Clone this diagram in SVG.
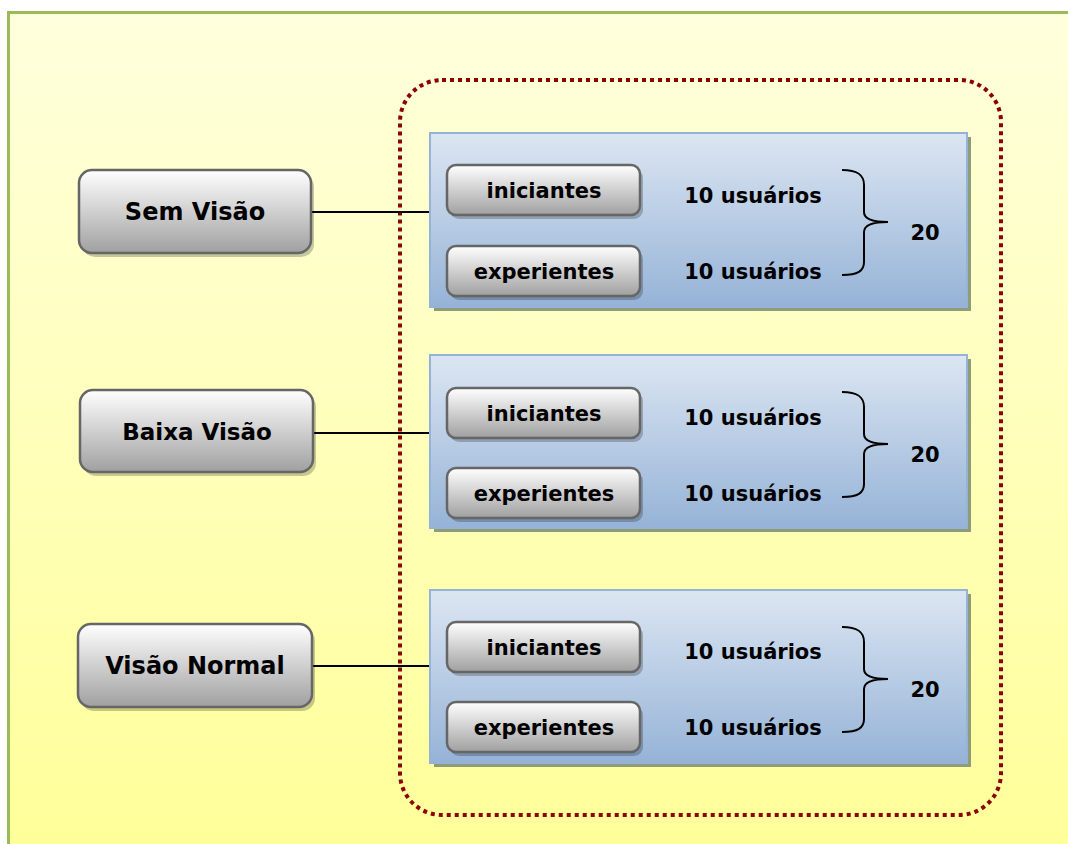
<svg xmlns="http://www.w3.org/2000/svg" width="1068" height="844" viewBox="0 0 1068 844">
<defs>
<linearGradient id="bg" x1="0" y1="0" x2="0" y2="1">
<stop offset="0" stop-color="#FFFFDD"/>
<stop offset="1" stop-color="#FFFF99"/>
</linearGradient>
<linearGradient id="blue" x1="0" y1="0" x2="0" y2="1">
<stop offset="0" stop-color="#DCE6F2"/>
<stop offset="1" stop-color="#95B3D7"/>
</linearGradient>
<linearGradient id="btn" x1="0" y1="0" x2="0" y2="1">
<stop offset="0" stop-color="#FFFFFF"/>
<stop offset="1" stop-color="#A0A0A0"/>
</linearGradient>
<style>
.t{font-family:"DejaVu Sans",Verdana,sans-serif;font-weight:bold;fill:#000;text-anchor:middle}
.big{font-size:24px}
.sm{font-size:21px}
.btn{fill:url(#btn);stroke:#666;stroke-width:2.5}
.bsh{fill:#000;opacity:0.22}
.box{fill:url(#blue);stroke:#95B3D7;stroke-width:2}
.bxsh{fill:#8F9C7C}
.conn{stroke:#000;stroke-width:2;fill:none}
.brace{stroke:#000;stroke-width:2;fill:none}
</style>
</defs>
<rect x="8.5" y="12.5" width="1070" height="840" fill="url(#bg)" stroke="#9BBB59" stroke-width="3"/>
<rect id="group" x="400" y="80" width="601" height="735" rx="42" fill="none" stroke="#8B0000" stroke-width="4" stroke-dasharray="4,4"/>

<g id="connectors">
<line class="conn" x1="312" y1="212" x2="430" y2="212"/>
<line class="conn" x1="314" y1="433" x2="430" y2="433"/>
<line class="conn" x1="312" y1="666" x2="430" y2="666"/>
</g>

<g id="sem-visao">
<rect class="bsh" x="82" y="174" width="232" height="83" rx="13"/>
<rect class="btn" x="79" y="170" width="232" height="83" rx="13"/>
<text class="t big" x="195" y="220">Sem Visão</text>
</g>
<g id="baixa-visao">
<rect class="bsh" x="83" y="394" width="233" height="82" rx="13"/>
<rect class="btn" x="80" y="390" width="233" height="82" rx="13"/>
<text class="t big" x="197" y="440" style="font-size:23px">Baixa Visão</text>
</g>
<g id="visao-normal">
<rect class="bsh" x="81" y="628" width="234" height="83" rx="13"/>
<rect class="btn" x="78" y="624" width="234" height="83" rx="13"/>
<text class="t big" x="195" y="674">Visão Normal</text>
</g>

<g id="grupo-sem-visao">
<rect class="bxsh" x="434" y="137" width="537" height="174"/>
<rect class="box" x="430" y="133" width="537" height="174"/>
<g id="sv-iniciantes">
<rect class="bsh" x="450" y="169" width="193" height="50" rx="9"/>
<rect class="btn" x="447" y="165" width="193" height="50" rx="9"/>
<text class="t sm" x="544" y="198">iniciantes</text>
</g>
<g id="sv-experientes">
<rect class="bsh" x="450" y="250" width="193" height="50" rx="9"/>
<rect class="btn" x="447" y="246" width="193" height="50" rx="9"/>
<text class="t sm" x="544" y="279">experientes</text>
</g>
<text class="t sm" x="753" y="203">10 usuários</text>
<text class="t sm" x="753" y="279">10 usuários</text>
<path class="brace" d="M842,170 C858,170 864,175 864,185 L864,212 C864,219 872,222 888,222 C872,222 864,225 864,232 L864,262 C864,271 858,275 842,275"/>
<text class="t sm" x="925" y="240">20</text>
</g>

<g id="grupo-baixa-visao">
<rect class="bxsh" x="434" y="359" width="537" height="173"/>
<rect class="box" x="430" y="355" width="537" height="173"/>
<g id="bv-iniciantes">
<rect class="bsh" x="450" y="392" width="193" height="50" rx="9"/>
<rect class="btn" x="447" y="388" width="193" height="50" rx="9"/>
<text class="t sm" x="544" y="421">iniciantes</text>
</g>
<g id="bv-experientes">
<rect class="bsh" x="450" y="472" width="193" height="50" rx="9"/>
<rect class="btn" x="447" y="468" width="193" height="50" rx="9"/>
<text class="t sm" x="544" y="501">experientes</text>
</g>
<text class="t sm" x="753" y="425">10 usuários</text>
<text class="t sm" x="753" y="501">10 usuários</text>
<path class="brace" d="M842,392 C858,392 864,397 864,407 L864,434 C864,441 872,444 888,444 C872,444 864,447 864,454 L864,484 C864,493 858,497 842,497"/>
<text class="t sm" x="925" y="462">20</text>
</g>

<g id="grupo-visao-normal">
<rect class="bxsh" x="434" y="594" width="537" height="173"/>
<rect class="box" x="430" y="590" width="537" height="173"/>
<g id="vn-iniciantes">
<rect class="bsh" x="450" y="626" width="193" height="50" rx="9"/>
<rect class="btn" x="447" y="622" width="193" height="50" rx="9"/>
<text class="t sm" x="544" y="655">iniciantes</text>
</g>
<g id="vn-experientes">
<rect class="bsh" x="450" y="706" width="193" height="50" rx="9"/>
<rect class="btn" x="447" y="702" width="193" height="50" rx="9"/>
<text class="t sm" x="544" y="735">experientes</text>
</g>
<text class="t sm" x="753" y="659">10 usuários</text>
<text class="t sm" x="753" y="735">10 usuários</text>
<path class="brace" d="M842,627 C858,627 864,632 864,642 L864,669 C864,676 872,679 888,679 C872,679 864,682 864,689 L864,719 C864,728 858,732 842,732"/>
<text class="t sm" x="925" y="697">20</text>
</g>
</svg>
